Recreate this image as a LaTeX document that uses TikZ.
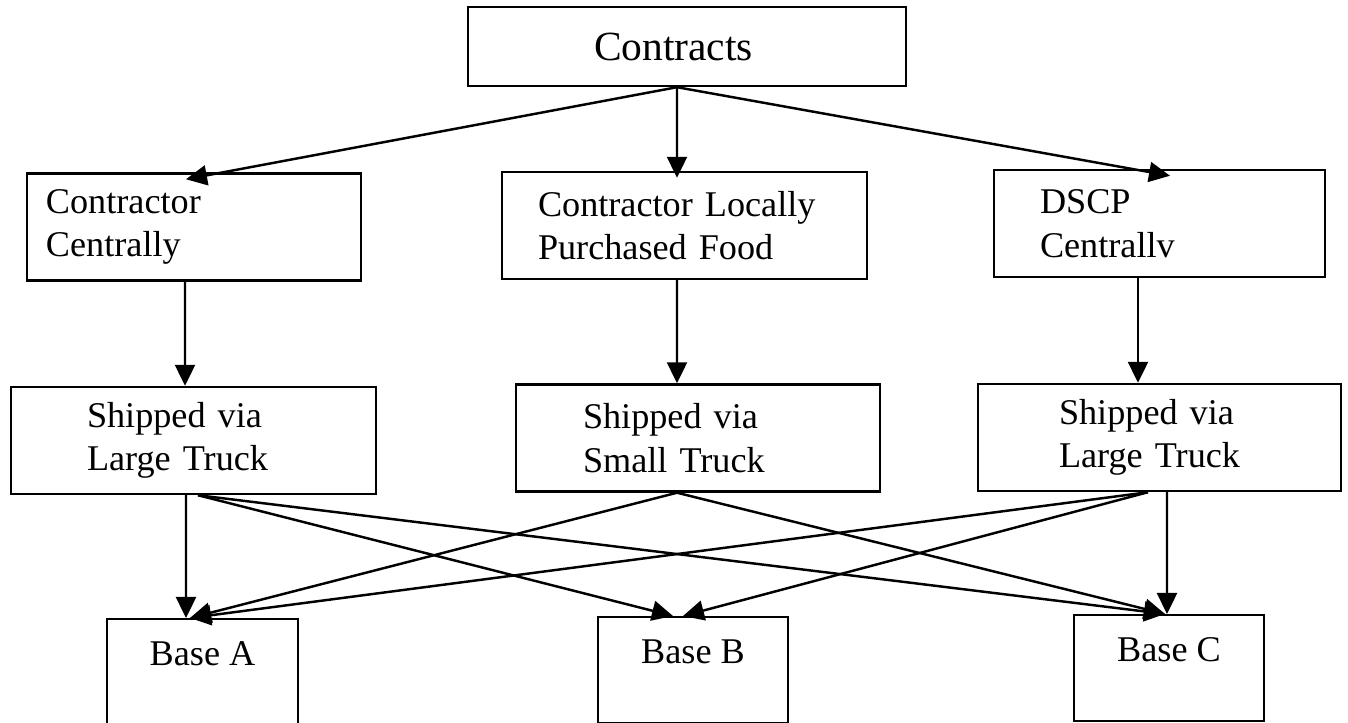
\documentclass[tikz,border=0pt]{standalone}
\usepackage{fontspec}
\setmainfont{Liberation Serif}
\usetikzlibrary{shapes,arrows,arrows.meta,positioning}

\begin{document}
\begin{tikzpicture}[  x=1cm,  y=-1cm,  font=\fontsize{10.3}{12.4}\selectfont,  box/.style={draw, line width=0.7pt, align=left, minimum height=1.07cm, inner ysep=0pt},  base/.style={draw, line width=0.7pt, anchor=north, minimum width=1.90cm, inner xsep=0pt, inner ysep=0pt, text height=0.46cm, text depth=0.60cm},  arr/.style={draw, line width=0.7pt, -{Triangle[length=0.21cm,width=0.2cm]}},  ]

  \useasboundingbox (0,0) rectangle (13.48,7.23);

  \node[box, minimum height=0.79cm, text width=1.86cm, inner xsep=1.26cm, font=\fontsize{11.8}{14}\selectfont] (contracts) at (6.87,0.465) {Contracts};

  \node[box, text width=2.96cm, inner xsep=0.19cm] (ccentral) at (1.94,2.27) {Contractor\\Centrally};
  \node[box, text width=2.93cm, inner xsep=0.36cm] (clocal) at (6.845,2.255) {Contractor Locally\\Purchased Food};
  \node[box, text width=2.39cm, inner xsep=0.46cm] (dscp) at (11.595,2.235) {DSCP\\Centrallv};

  \node[box, text width=2.13cm, inner xsep=0.76cm] (large1) at (1.935,4.405) {Shipped via\\Large Truck};
  \node[box, text width=2.30cm, inner xsep=0.67cm] (small) at (6.98,4.38) {Shipped via\\Small Truck};
  \node[box, text width=2.01cm, inner xsep=0.81cm] (large2) at (11.595,4.375) {Shipped via\\Large Truck};

  \node[base, minimum width=1.91cm, text depth=0.64cm] (baseA) at (2.025,6.18) {Base A};
  \node[base] (baseB) at (6.93,6.16) {Base B};
  \node[base] (baseC) at (11.69,6.14) {Base C};

  \draw[arr] ([xshift=-1mm]contracts.south) -- ([xshift=-0.8mm,yshift=-0.7mm]ccentral.north);
  \draw[arr] ([xshift=-1mm]contracts.south) -- ([xshift=-0.75mm,yshift=-0.7mm]clocal.north);
  \draw[arr] ([xshift=-1mm]contracts.south) -- ([xshift=1.05mm,yshift=-0.7mm]dscp.north);

  \draw[arr] ([xshift=-0.9mm]ccentral.south) -- ([xshift=-0.85mm]large1.north);
  \draw[arr] ([xshift=-0.75mm]clocal.south) -- ([xshift=-2.1mm]small.north);
  \draw[arr] ([xshift=-2.15mm]dscp.south) -- ([xshift=-2.15mm]large2.north);

  \draw[arr] ([xshift=-0.75mm]large1.south) -- ([xshift=-1.65mm]baseA.north);
  \draw[arr] ([xshift=0.45mm]large1.south) -- ([xshift=-2mm]baseB.north);
  \draw[arr] ([xshift=0.45mm]large1.south) -- ([xshift=-0.4mm]baseC.north);
  \draw[arr] ([xshift=-2.1mm]small.south) -- ([xshift=-1.25mm]baseA.north);
  \draw[arr] ([xshift=-2.1mm]small.south) -- ([xshift=-0.4mm]baseC.north);
  \draw[arr] ([xshift=-1.15mm]large2.south) -- ([xshift=-1.25mm]baseA.north);
  \draw[arr] ([xshift=-1.15mm]large2.south) -- ([xshift=-1mm]baseB.north);
  \draw[arr] ([xshift=0.75mm]large2.south) -- ([xshift=-0.2mm]baseC.north);
\end{tikzpicture}
\end{document}
